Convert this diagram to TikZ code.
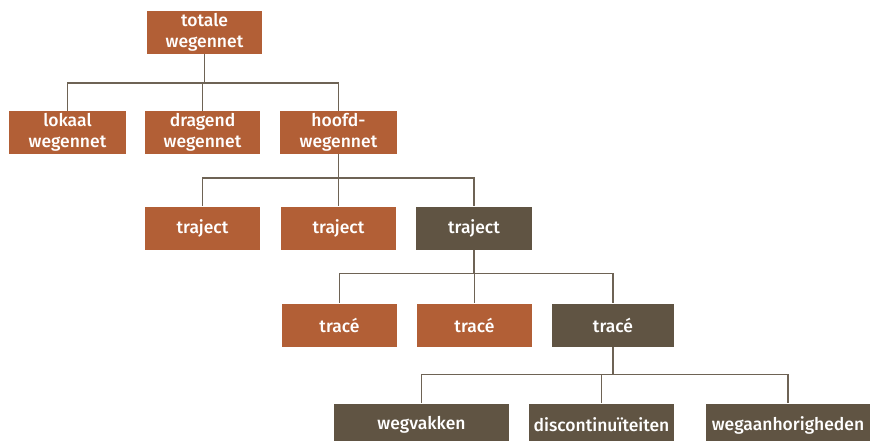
\documentclass[tikz,border=0pt]{standalone}
\usepackage{fontspec}
\setmainfont{Fira Sans}[BoldFont={Fira Sans Medium}]
\definecolor{roest}{HTML}{B25F36}
\definecolor{bruin}{HTML}{605443}
\definecolor{lijn}{HTML}{6E6355}

\tikzset{
  box/.style={fill=roest, text=white, minimum height=43pt, minimum width=115pt,
    inner sep=0pt, align=center, font=\fontsize{17.5}{20.5}\selectfont\bfseries},
  donker/.style={box, fill=bruin},
  link/.style={draw=lijn, line width=1.4pt}
}

\begin{document}
\begin{tikzpicture}[x=1pt, y=-1pt]
    \useasboundingbox (0,0) rectangle (873,441);
    % level 1
    \node[box] (totaal) at (204.5,32.5) {totale\\wegennet};
    % level 2
    \node[box, minimum width=117pt] (lokaal) at (67.5,132.5) {lokaal\\wegennet};
    \node[box] (dragend) at (202.5,132.5) {dragend\\wegennet};
    \node[box, minimum width=117pt] (hoofd) at (338.5,132.5) {hoofd-\\wegennet};
    % level 3
    \node[box] (traj1) at (202.5,228) {traject};
    \node[box] (traj2) at (338.5,228) {traject};
    \node[donker, minimum width=116pt] (traj3) at (474,228) {traject};
    % level 4
    \node[box] (trace1) at (339.5,325) {tracé};
    \node[box] (trace2) at (474.5,325) {tracé};
    \node[donker, minimum width=122pt] (trace3) at (613,325) {tracé};
    % level 5
    \node[donker, minimum width=175pt] (vak) at (421.5,425) {wegvakken};
    \node[donker, minimum width=145pt] (disc) at (601.5,425) {discontinuïteiten};
    \node[donker, minimum width=164pt] (aanh) at (788,425) {wegaanhorigheden};
    % connectors
    \foreach \kind in {lokaal,dragend,hoofd}
      \draw[link] (totaal.south) -- ++(0,29) -| (\kind.north);
    \foreach \kind in {traj1,traj2,traj3}
      \draw[link] (hoofd.south) -- ++(0,24) -| (\kind.north);
    \foreach \kind in {trace1,trace2,trace3}
      \draw[link] (traj3.south) -- ++(0,24) -| (\kind.north);
    \foreach \kind in {vak,disc,aanh}
      \draw[link] (trace3.south) -- ++(0,28) -| (\kind.north);
\end{tikzpicture}
\end{document}
